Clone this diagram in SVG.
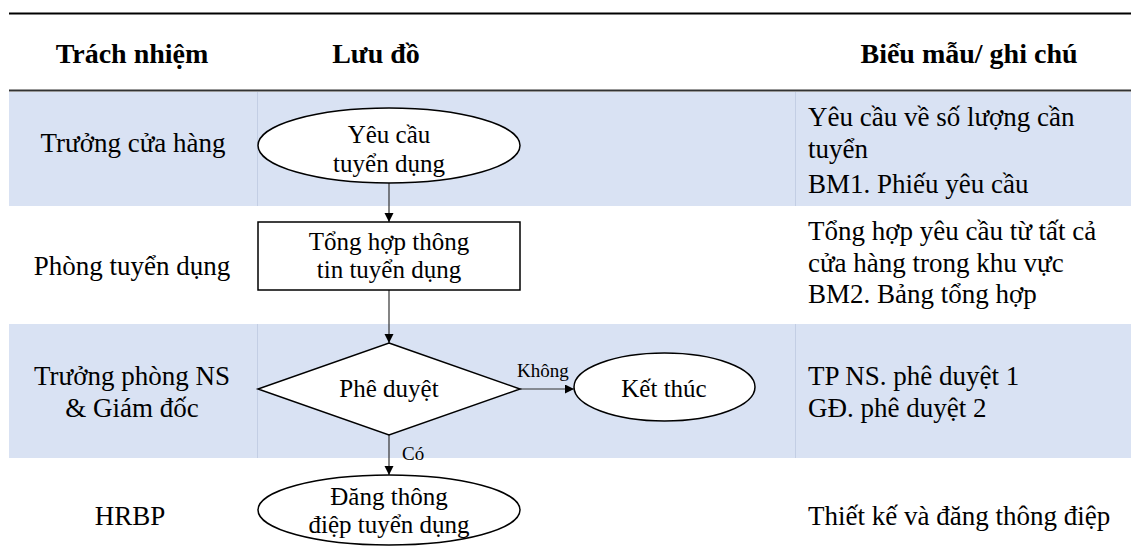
<svg xmlns="http://www.w3.org/2000/svg" width="1131" height="560" viewBox="0 0 1131 560">
<defs>
<style>
.t{font-family:"Liberation Serif","Times New Roman",serif;fill:#000}
.h{font-size:28px;font-weight:bold;text-anchor:middle}
.c{font-size:27px;text-anchor:middle}
.r{font-size:27px}
.n{font-size:25px;text-anchor:middle}
.lbl{font-size:19px}
.band{fill:#D9E2F3}
.div{stroke:#C3CEE4;stroke-width:1}
.shape{fill:#fff;stroke:#000;stroke-width:1.5}
.conn{stroke:#333;stroke-width:1.2;fill:none;marker-end:url(#arr)}
</style>
<marker id="arr" markerWidth="10" markerHeight="10" refX="9" refY="4.5" orient="auto" markerUnits="userSpaceOnUse">
<path d="M0,0 L9,4.5 L0,9 Z" fill="#000"/>
</marker>
</defs>
<rect width="1131" height="560" fill="#fff"/>
<g id="table">
<line x1="9" y1="13.5" x2="1131" y2="13.5" stroke="#000" stroke-width="2"/>
<rect class="band" x="9" y="92" width="1122" height="114"/>
<rect class="band" x="9" y="324" width="1122" height="134"/>
<line x1="9" y1="90.5" x2="1131" y2="90.5" stroke="#333" stroke-width="2"/>
<line class="div" x1="257.5" y1="92" x2="257.5" y2="206"/>
<line class="div" x1="795.5" y1="92" x2="795.5" y2="206"/>
<line class="div" x1="257.5" y1="324" x2="257.5" y2="458"/>
<line class="div" x1="795.5" y1="324" x2="795.5" y2="458"/>
<text class="t h" x="132" y="63">Trách nhiệm</text>
<text class="t h" x="376" y="63">Lưu đồ</text>
<text class="t h" x="969" y="63">Biểu mẫu/ ghi chú</text>
<text class="t c" x="133" y="152">Trưởng cửa hàng</text>
<text class="t c" x="132" y="275">Phòng tuyển dụng</text>
<text class="t c" x="132" y="385">Trưởng phòng NS</text>
<text class="t c" x="132" y="417">&amp; Giám đốc</text>
<text class="t c" x="130" y="525">HRBP</text>
<text class="t r" x="808" y="126">Yêu cầu về số lượng cần</text>
<text class="t r" x="808" y="158">tuyển</text>
<text class="t r" x="808" y="193">BM1. Phiếu yêu cầu</text>
<text class="t r" x="808" y="240">Tổng hợp yêu cầu từ tất cả</text>
<text class="t r" x="808" y="272">cửa hàng trong khu vực</text>
<text class="t r" x="808" y="303">BM2. Bảng tổng hợp</text>
<text class="t r" x="808" y="385">TP NS. phê duyệt 1</text>
<text class="t r" x="808" y="417">GĐ. phê duyệt 2</text>
<text class="t r" x="808" y="525">Thiết kế và đăng thông điệp</text>
</g>
<g id="connectors">
<line class="conn" x1="389" y1="183" x2="389" y2="222"/>
<line class="conn" x1="389" y1="290" x2="389" y2="343"/>
<line class="conn" x1="520" y1="389" x2="574" y2="389"/>
<line class="conn" x1="389" y1="435" x2="389" y2="475"/>
<text class="t lbl" x="517" y="377">Không</text>
<text class="t lbl" x="402" y="460">Có</text>
</g>
<g id="n1">
<ellipse class="shape" cx="389" cy="145.5" rx="131" ry="37.5"/>
<text class="t n" x="389" y="143">Yêu cầu</text>
<text class="t n" x="389" y="172">tuyển dụng</text>
</g>
<g id="n2">
<rect class="shape" x="258" y="222" width="262" height="68"/>
<text class="t n" x="389" y="250">Tổng hợp thông</text>
<text class="t n" x="389" y="278">tin tuyển dụng</text>
</g>
<g id="n3">
<polygon class="shape" points="389,343 520,389 389,435 258,389"/>
<text class="t n" x="389" y="397">Phê duyệt</text>
</g>
<g id="n4">
<ellipse class="shape" cx="664.5" cy="387" rx="90.5" ry="34"/>
<text class="t n" x="664" y="397">Kết thúc</text>
</g>
<g id="n5">
<ellipse class="shape" cx="389" cy="510" rx="131" ry="35"/>
<text class="t n" x="389" y="505">Đăng thông</text>
<text class="t n" x="389" y="533">điệp tuyển dụng</text>
</g>
</svg>
